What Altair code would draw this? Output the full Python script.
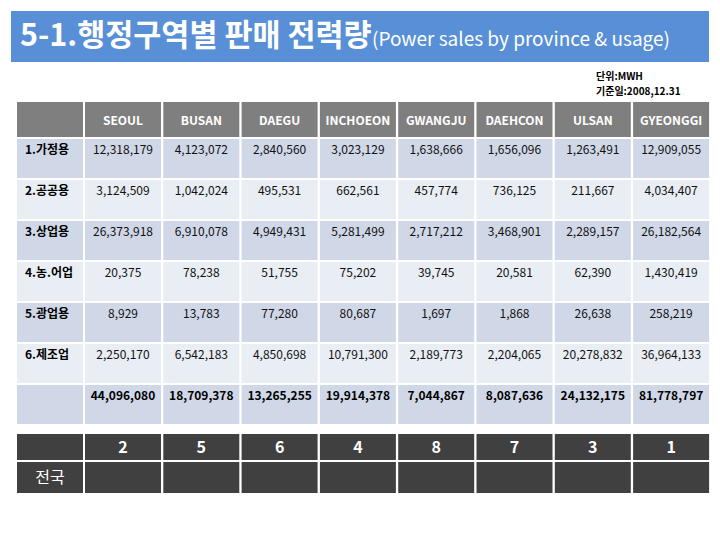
import altair as alt
import pandas as pd

# ---------------- data ----------------
provinces = ["SEOUL", "BUSAN", "DAEGU", "INCHOEON", "GWANGJU", "DAEHCON", "ULSAN", "GYEONGGI"]
categories = ["1.가정용", "2.공공용", "3.상업용", "4.농.어업", "5.광업용", "6.제조업"]

household = [12318179, 4123072, 2840560, 3023129, 1638666, 1656096, 1263491, 12909055]
public = [3124509, 1042024, 495531, 662561, 457774, 736125, 211667, 4034407]
commercial = [26373918, 6910078, 4949431, 5281499, 2717212, 3468901, 2289157, 26182564]
agri_fish = [20375, 78238, 51755, 75202, 39745, 20581, 62390, 1430419]
mining = [8929, 13783, 77280, 80687, 1697, 1868, 26638, 258219]
manufacturing = [2250170, 6542183, 4850698, 10791300, 2189773, 2204065, 20278832, 36964133]
totals = [44096080, 18709378, 13265255, 19914378, 7044867, 8087636, 24132175, 81778797]
ranks = [2, 5, 6, 4, 8, 7, 3, 1]

series = [household, public, commercial, agri_fish, mining, manufacturing]

title_main = "5-1.행정구역별 판매 전력량"
title_sub = "(Power sales by province & usage)"
unit_lines = ["단위:MWH", "기준일:2008,12.31"]
nation_label = "전국"

# ---------------- layout ----------------
LAB_L, LAB_R = 17, 83
COL_L0, COL_STEP, COL_W = 85, 78.3, 76
HEAD_T, HEAD_B = 102, 137
ROW_T0, ROW_STEP, ROW_H = 139, 41, 39
RANK_T, RANK_B = 434, 460
NAT_T, NAT_B = 462, 493

C_HEAD = "#7f7f7f"
C_DARK = "#d0d8e8"
C_LIGHT = "#e9edf4"
C_BLACK = "#404040"
C_TITLE = "#588fd6"

FONT = "Noto Sans CJK KR"


def col_l(i):
    return COL_L0 + i * COL_STEP


def col_c(i):
    return col_l(i) + COL_W / 2


def row_t(r):
    return ROW_T0 + r * ROW_STEP


cells = []
# title band
cells.append(dict(x=11, x2=709, y=11, y2=62, fill=C_TITLE))
# header row
cells.append(dict(x=LAB_L, x2=LAB_R, y=HEAD_T, y2=HEAD_B, fill=C_HEAD))
for i in range(len(provinces)):
    cells.append(dict(x=col_l(i), x2=col_l(i) + COL_W, y=HEAD_T, y2=HEAD_B, fill=C_HEAD))
# data rows + total row
for r in range(len(categories) + 1):
    fill = C_DARK if r % 2 == 0 else C_LIGHT
    cells.append(dict(x=LAB_L, x2=LAB_R, y=row_t(r), y2=row_t(r) + ROW_H, fill=fill))
    for i in range(len(provinces)):
        cells.append(dict(x=col_l(i), x2=col_l(i) + COL_W, y=row_t(r), y2=row_t(r) + ROW_H, fill=fill))
# rank + nation rows
for (t, b) in [(RANK_T, RANK_B), (NAT_T, NAT_B)]:
    cells.append(dict(x=LAB_L, x2=LAB_R, y=t, y2=b, fill=C_BLACK))
    for i in range(len(provinces)):
        cells.append(dict(x=col_l(i), x2=col_l(i) + COL_W, y=t, y2=b, fill=C_BLACK))
cells_df = pd.DataFrame(cells)

XS = alt.Scale(domain=[8, 712], nice=False, zero=False)
YS = alt.Scale(domain=[8, 532], nice=False, zero=False, reverse=True)

rects = alt.Chart(cells_df).mark_rect(strokeWidth=0).encode(
    x=alt.X("x:Q", scale=XS, axis=None),
    x2="x2:Q",
    y=alt.Y("y:Q", scale=YS, axis=None),
    y2="y2:Q",
    color=alt.Color("fill:N", scale=None),
)


def text_layer(rows, size, weight="normal", color="black", align="center", font=FONT):
    df = pd.DataFrame(rows)
    return alt.Chart(df).mark_text(
        fontSize=size, fontWeight=weight, color=color, align=align, baseline="middle", font=font
    ).encode(
        x=alt.X("x:Q", scale=XS, axis=None),
        y=alt.Y("y:Q", scale=YS, axis=None),
        text="t:N",
    )


header_txt = text_layer(
    [dict(x=col_c(i), y=(HEAD_T + HEAD_B) / 2 + 1, t=p) for i, p in enumerate(provinces)],
    12, "bold", "white")

label_txt = text_layer(
    [dict(x=LAB_L + 8, y=row_t(r) + 11, t=c) for r, c in enumerate(categories)],
    12, "bold", "black", "left")

value_rows = []
for r, vals in enumerate(series):
    for i, v in enumerate(vals):
        value_rows.append(dict(x=col_c(i), y=row_t(r) + 11, t=f"{v:,}"))
value_txt = text_layer(value_rows, 12, "normal", "#111111")

total_txt = text_layer(
    [dict(x=col_c(i), y=row_t(len(categories)) + 11, t=f"{v:,}") for i, v in enumerate(totals)],
    12, "bold", "black")

rank_txt = text_layer(
    [dict(x=col_c(i), y=(RANK_T + RANK_B) / 2 + 1, t=str(v)) for i, v in enumerate(ranks)],
    16, "bold", "white")

nation_txt = text_layer(
    [dict(x=(LAB_L + LAB_R) / 2, y=(NAT_T + NAT_B) / 2, t=nation_label)],
    16, "normal", "white")

title_txt = text_layer([dict(x=20, y=37, t=title_main)], 30.5, "bold", "white", "left")
sub_txt = text_layer([dict(x=372, y=40, t=title_sub)], 19, "normal", "white", "left")

unit_txt = text_layer(
    [dict(x=596, y=77 + k * 15, t=s) for k, s in enumerate(unit_lines)],
    10, "bold", "black", "left")

chart = alt.layer(
    rects, header_txt, label_txt, value_txt, total_txt, rank_txt, nation_txt,
    title_txt, sub_txt, unit_txt
).properties(
    width=704, height=524, padding=0, autosize="none", background="white"
).configure_view(strokeWidth=0)

chart.save("out.html", embed_options={"renderer": "svg", "actions": False})
